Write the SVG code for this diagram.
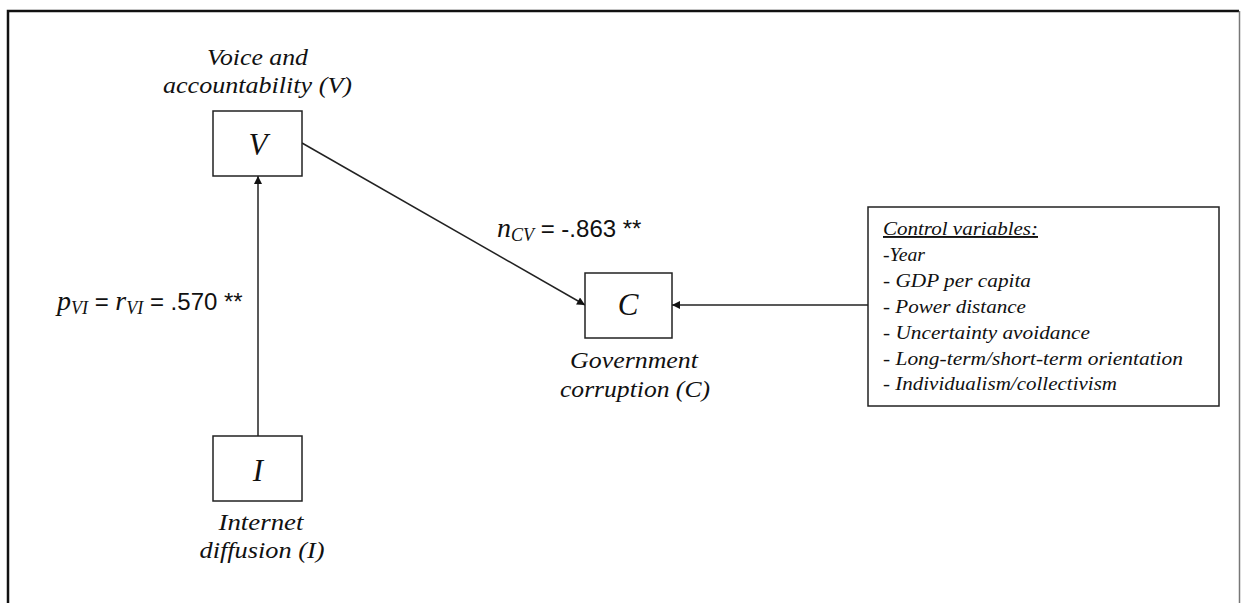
<svg xmlns="http://www.w3.org/2000/svg" width="1241" height="603" viewBox="0 0 1241 603">
  <style>
    .box { fill: #fff; stroke: #222; stroke-width: 1.5; }
    .edge { fill: none; stroke: #222; stroke-width: 1.5; }
    .lbl { font-family: "Liberation Serif", serif; font-style: italic; font-size: 23px; fill: #111; text-anchor: middle; }
    .big { font-family: "Liberation Serif", serif; font-style: italic; font-size: 31px; fill: #111; text-anchor: middle; }
    .coef { font-family: "Liberation Sans", "Open Sans", sans-serif; font-size: 24px; fill: #111; }
    .var { font-family: "Liberation Serif", serif; font-style: italic; }
    .ctl { font-family: "Liberation Serif", serif; font-style: italic; font-size: 19px; fill: #111; }
  </style>
  <defs>
    <marker id="arrow" viewBox="0 0 10 10" refX="10" refY="5" markerWidth="10" markerHeight="8" markerUnits="userSpaceOnUse" orient="auto">
      <path d="M0,0 L10,5 L0,10 z" fill="#111"/>
    </marker>
  </defs>

  <rect width="1241" height="603" fill="#fff"/>

  <!-- frame -->
  <path d="M8,603 V11 H1239" fill="none" stroke="#111" stroke-width="2.5"/>
  <path d="M1239.5,11 V603" fill="none" stroke="#777" stroke-width="1.5"/>

  <!-- connectors -->
  <g id="connectors">
    <line class="edge" x1="258" y1="436" x2="258" y2="176" marker-end="url(#arrow)"/>
    <line class="edge" x1="302" y1="143" x2="585" y2="305" marker-end="url(#arrow)"/>
    <line class="edge" x1="868" y1="305" x2="672" y2="305" marker-end="url(#arrow)"/>
    <text class="coef" x="57" y="310"><tspan class="var" font-size="28">p</tspan><tspan class="var" font-size="18" dy="4">VI</tspan><tspan dy="-4"> = </tspan><tspan class="var" font-size="28">r</tspan><tspan class="var" font-size="18" dy="4">VI</tspan><tspan dy="-4"> = .570 **</tspan></text>
    <text class="coef" x="497" y="237"><tspan class="var" font-size="28">n</tspan><tspan class="var" font-size="18" dy="4">CV</tspan><tspan dy="-4"> = -.863 **</tspan></text>
  </g>

  <!-- Voice and accountability -->
  <g id="node-V">
    <rect class="box" x="213" y="111" width="89" height="65"/>
    <text class="big" x="258" y="155">V</text>
    <text class="lbl" x="257.5" y="65" textLength="101" lengthAdjust="spacingAndGlyphs">Voice and</text>
    <text class="lbl" x="257.5" y="93" textLength="189" lengthAdjust="spacingAndGlyphs">accountability (V)</text>
  </g>

  <!-- Internet diffusion -->
  <g id="node-I">
    <rect class="box" x="213" y="436" width="89" height="65"/>
    <text class="big" x="258" y="481">I</text>
    <text class="lbl" x="261" y="530" textLength="85" lengthAdjust="spacingAndGlyphs">Internet</text>
    <text class="lbl" x="262" y="558" textLength="125" lengthAdjust="spacingAndGlyphs">diffusion (I)</text>
  </g>

  <!-- Government corruption -->
  <g id="node-C">
    <rect class="box" x="585" y="273" width="87" height="65"/>
    <text class="big" x="628" y="315">C</text>
    <text class="lbl" x="634" y="368" textLength="128" lengthAdjust="spacingAndGlyphs">Government</text>
    <text class="lbl" x="635" y="397" textLength="150" lengthAdjust="spacingAndGlyphs">corruption (C)</text>
  </g>

  <!-- Control variables -->
  <g id="node-controls">
    <rect class="box" x="868" y="207" width="351" height="199"/>
    <text class="ctl" x="883" y="235" text-decoration="underline" textLength="155" lengthAdjust="spacingAndGlyphs">Control variables:</text>
    <text class="ctl" x="883" y="261" textLength="42" lengthAdjust="spacingAndGlyphs">-Year</text>
    <text class="ctl" x="883" y="287" textLength="148" lengthAdjust="spacingAndGlyphs">- GDP per capita</text>
    <text class="ctl" x="883" y="313" textLength="143" lengthAdjust="spacingAndGlyphs">- Power distance</text>
    <text class="ctl" x="883" y="339" textLength="207" lengthAdjust="spacingAndGlyphs">- Uncertainty  avoidance</text>
    <text class="ctl" x="883" y="365" textLength="300" lengthAdjust="spacingAndGlyphs">- Long-term/short-term  orientation</text>
    <text class="ctl" x="883" y="390" textLength="234" lengthAdjust="spacingAndGlyphs">- Individualism/collectivism</text>
  </g>
</svg>
